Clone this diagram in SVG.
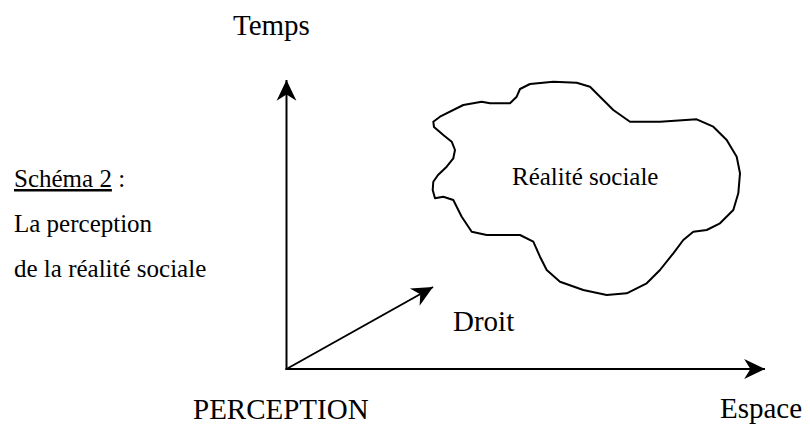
<svg xmlns="http://www.w3.org/2000/svg" width="810" height="425" viewBox="0 0 810 425">
<style>
.t{font-family:"Liberation Serif","Times New Roman","DejaVu Serif",serif;fill:#000}
.big{font-size:29px}
.mid{font-size:25px}
.ln{stroke:#000;stroke-width:2;fill:none}
</style>
<defs>
<marker id="ah" markerUnits="userSpaceOnUse" markerWidth="24" markerHeight="24" viewBox="-21 -11 23 22" refX="0" refY="0" orient="auto">
<path d="M0,0 L-20,-9.5 L-14,0 L-20,9.5 Z" fill="#000"/>
</marker>
</defs>
<rect width="810" height="425" fill="#fff"/>
<g id="connectors">
<line class="ln" x1="286.5" y1="370" x2="286.5" y2="80" marker-end="url(#ah)"/>
<line class="ln" x1="285.5" y1="369" x2="765" y2="369" marker-end="url(#ah)"/>
<line class="ln" x1="286.5" y1="369" x2="433" y2="287" marker-end="url(#ah)"/>
</g>
<g id="temps"><text class="t big" x="233" y="35">Temps</text></g>
<g id="espace"><text class="t big" x="720" y="418">Espace</text></g>
<g id="perception"><text class="t big" x="193" y="419">PERCEPTION</text></g>
<g id="droit"><text class="t big" x="453" y="331">Droit</text></g>
<g id="caption">
<text class="t mid" x="14" y="187"><tspan text-decoration="underline">Schéma 2</tspan> :</text>
<text class="t mid" x="14" y="232">La perception</text>
<text class="t mid" x="14" y="277">de la réalité sociale</text>
</g>
<g id="realite-sociale">
<path class="ln" stroke-linejoin="round" d="M433.3,121.7 L440,116.7 L463.3,105 L481.7,101.7 L490,103.3 L510,103.3 L516.7,96.7 L520,89 L530,84 L553.3,81.7 L576.7,82.7 L590,86.7 L600,96.7 L613.3,110 L630,121.7 L660,121.7 L696.7,119.3 L713.3,126.7 L726.7,140 L736.7,156.7 L740,173.3 L738.3,193.3 L733.3,210 L720,223.3 L706.7,230 L693.3,231.7 L683.3,240 L673.3,253.3 L660,270 L646.7,283.3 L626.7,293.3 L606.7,295 L583.3,290 L560,281.7 L546.7,270 L540,256.7 L533.3,241.7 L520,235 L486.7,235 L471.7,231.7 L461.7,216.7 L453.3,200 L443.3,196.7 L435,198.3 L432.7,190 L433.3,181.7 L438,175 L446.7,166.7 L453.3,158.3 L455,150 L451.7,141.7 L443.3,135 L434,127 Z"/>
<text class="t" font-size="25" x="512" y="185">Réalité sociale</text>
</g>
</svg>
